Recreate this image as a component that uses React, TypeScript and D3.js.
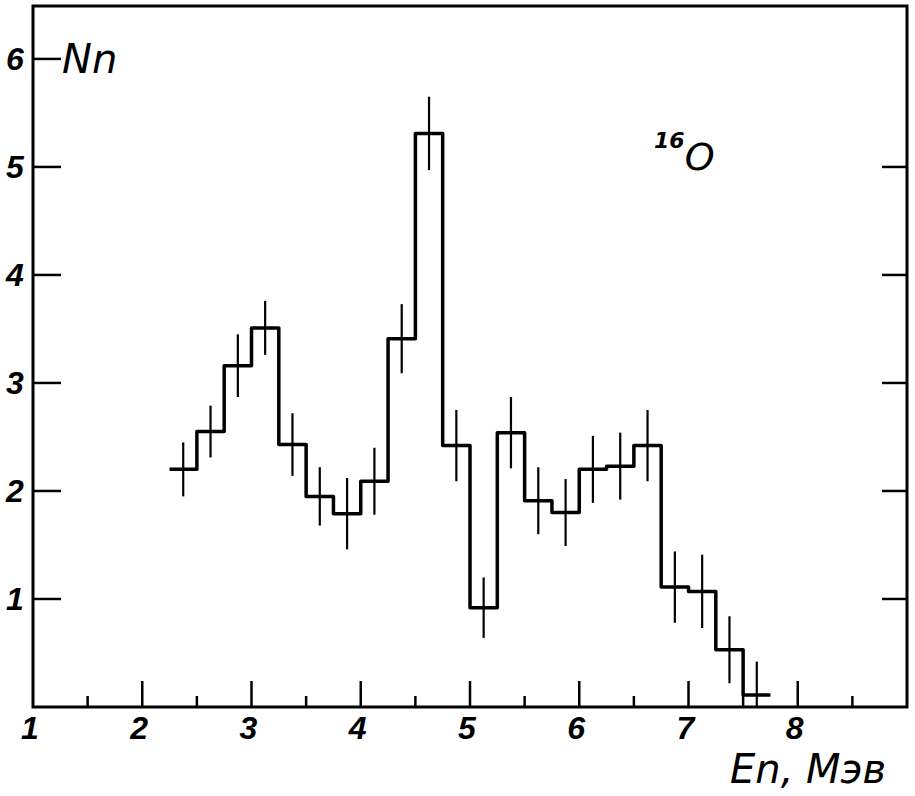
import React, { useRef, useEffect } from "react";
import * as d3 from "d3";

// bin edges (MeV) and measured neutron counts per bin
const binEdges = [
	2.25, 2.5, 2.75, 3.0, 3.25, 3.5, 3.75, 4.0, 4.25, 4.5, 4.75, 5.0, 5.25,
	5.5, 5.75, 6.0, 6.25, 6.5, 6.75, 7.0, 7.25, 7.5, 7.75,
];
const counts = [
	2.2, 2.55, 3.16, 3.51, 2.43, 1.95, 1.79, 2.09, 3.41, 5.31, 2.42, 0.92, 2.54,
	1.91, 1.8, 2.2, 2.23, 2.42, 1.11, 1.07, 0.53, 0.11,
];
const errors = [
	0.25, 0.24, 0.29, 0.25, 0.29, 0.27, 0.33, 0.31, 0.32, 0.34, 0.33, 0.28, 0.33,
	0.31, 0.31, 0.31, 0.31, 0.33, 0.33, 0.34, 0.31, 0.31,
];
const xTicks = [1, 2, 3, 4, 5, 6, 7, 8];
const xMinorTicks = [1.5, 2.5, 3.5, 4.5, 5.5, 6.5, 7.5, 8.5];
const yTicks = [1, 2, 3, 4, 5, 6];

const App = () => {
	const ref = useRef<SVGSVGElement>(null);
	const width = 915;
	const height = 796;
	const left = 33;
	const right = 907;
	const top = 6;
	const bottom = 707;

	useEffect(() => {
		const svg = d3.select(ref.current);
		svg.selectAll("*").remove();

		const x = d3.scaleLinear().domain([1, 9]).range([left, right]);
		const y = d3.scaleLinear().domain([0, 6.49]).range([bottom, top]);

		const numFont = "'Liberation Sans', 'DejaVu Sans', sans-serif";

		// frame
		svg
			.append("rect")
			.attr("x", left)
			.attr("y", top)
			.attr("width", right - left)
			.attr("height", bottom - top)
			.attr("fill", "none")
			.attr("stroke", "#000")
			.attr("stroke-width", 3);

		// x ticks (major + minor), pointing inwards
		svg
			.selectAll(".xmaj")
			.data(xTicks.slice(1))
			.enter()
			.append("line")
			.attr("x1", (d) => x(d))
			.attr("x2", (d) => x(d))
			.attr("y1", bottom)
			.attr("y2", bottom - 26)
			.attr("stroke", "#000")
			.attr("stroke-width", 2.5);
		svg
			.selectAll(".xmin")
			.data(xMinorTicks)
			.enter()
			.append("line")
			.attr("x1", (d) => x(d))
			.attr("x2", (d) => x(d))
			.attr("y1", bottom)
			.attr("y2", bottom - 11)
			.attr("stroke", "#000")
			.attr("stroke-width", 2.5);

		svg
			.selectAll(".xlab")
			.data(xTicks)
			.enter()
			.append("text")
			.attr("x", (d) => x(d) - 3)
			.attr("y", bottom + 32)
			.attr("text-anchor", "middle")
			.attr("font-family", numFont)
			.attr("font-style", "italic")
			.attr("font-weight", "bold")
			.attr("font-size", 32)
			.text((d) => d);

		// y ticks, left and right
		svg
			.selectAll(".yl")
			.data(yTicks)
			.enter()
			.append("line")
			.attr("x1", left)
			.attr("x2", left + 28)
			.attr("y1", (d) => y(d))
			.attr("y2", (d) => y(d))
			.attr("stroke", "#000")
			.attr("stroke-width", 2.5);
		svg
			.selectAll(".yr")
			.data(yTicks.slice(0, 5))
			.enter()
			.append("line")
			.attr("x1", right - 25)
			.attr("x2", right)
			.attr("y1", (d) => y(d))
			.attr("y2", (d) => y(d))
			.attr("stroke", "#000")
			.attr("stroke-width", 2.5);

		svg
			.selectAll(".ylab")
			.data(yTicks)
			.enter()
			.append("text")
			.attr("x", 15)
			.attr("y", (d) => y(d) + 11)
			.attr("text-anchor", "middle")
			.attr("font-family", numFont)
			.attr("font-style", "italic")
			.attr("font-weight", "bold")
			.attr("font-size", 32)
			.text((d) => d);

		// histogram as a step line
		const pts: [number, number][] = counts.map((c, i) => [binEdges[i], c]);
		pts.push([binEdges[binEdges.length - 1], counts[counts.length - 1]]);
		const line = d3
			.line<[number, number]>()
			.x((d) => x(d[0]))
			.y((d) => y(d[1]))
			.curve(d3.curveStepAfter);
		svg
			.append("path")
			.attr("d", line(pts))
			.attr("fill", "none")
			.attr("stroke", "#000")
			.attr("stroke-width", 3.5)
			.attr("stroke-linejoin", "round");

		// error bars at bin centres
		svg
			.selectAll(".err")
			.data(counts)
			.enter()
			.append("line")
			.attr("x1", (d, i) => x((binEdges[i] + binEdges[i + 1]) / 2))
			.attr("x2", (d, i) => x((binEdges[i] + binEdges[i + 1]) / 2))
			.attr("y1", (d, i) => y(d + errors[i]))
			.attr("y2", (d, i) => y(Math.max(0, d - errors[i])))
			.attr("stroke", "#000")
			.attr("stroke-width", 2.2);

		// labels
		svg
			.append("text")
			.attr("x", 62)
			.attr("y", 73)
			.attr("font-family", "'DejaVu Sans', sans-serif")
			.attr("font-style", "italic")
			.attr("font-size", 40)
			.text("Nn");

		const iso = svg
			.append("text")
			.attr("x", 654)
			.attr("y", 170)
			.attr("font-family", "'DejaVu Sans', sans-serif")
			.attr("font-style", "italic");
		iso
			.append("tspan")
			.attr("font-size", 22)
			.attr("font-weight", "bold")
			.attr("dy", -22)
			.text("16");
		iso.append("tspan").attr("font-size", 38).attr("dy", 22).text("O");

		svg
			.append("text")
			.attr("x", 730)
			.attr("y", 783)
			.attr("font-family", "'DejaVu Sans', sans-serif")
			.attr("font-style", "italic")
			.attr("font-size", 40)
			.text("En, Мэв");
	}, []);

	return (
		<svg
			ref={ref}
			width={width}
			height={height}
			style={{ position: "absolute", left: 0, top: 0, background: "#fff" }}
		/>
	);
};

export default App;
